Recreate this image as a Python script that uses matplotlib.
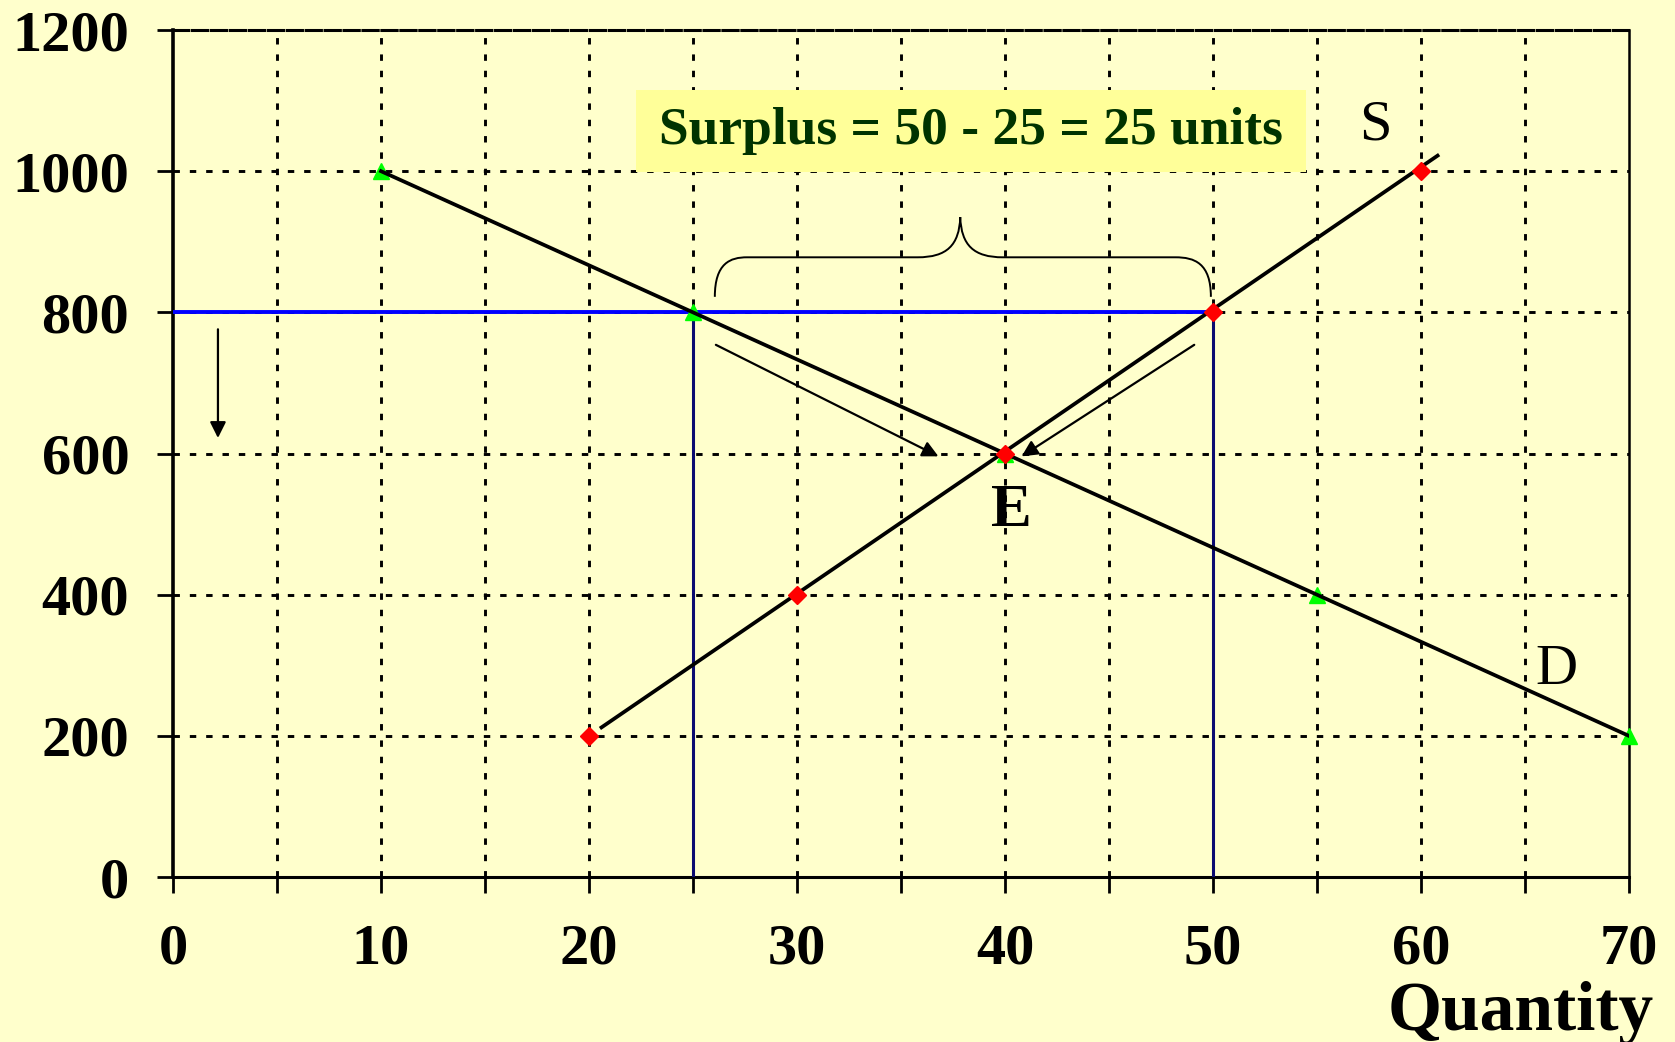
import matplotlib
matplotlib.use("Agg")
from matplotlib import pyplot as plt
from matplotlib.path import Path
from matplotlib.patches import PathPatch, Rectangle

# demand schedule (green triangles) and supply schedule (red diamonds)
demand_q = [10, 25, 40, 55, 70]
demand_p = [1000, 800, 600, 400, 200]
supply_q = [20, 30, 40, 50, 60]
supply_p = [200, 400, 600, 800, 1000]
supply_line_q = [20.6, 60.8]
supply_line_p = [212, 1022]

price_floor = 800
qty_demanded = 25
qty_supplied = 50

x_ticks = list(range(0, 75, 5))
x_labels = ["0", "", "10", "", "20", "", "30", "", "40", "", "50", "", "60", "", "70"]
y_ticks = [0, 200, 400, 600, 800, 1000, 1200]
y_labels = ["0", "200", "400", "600", "800", "1000", "1200"]

BG = "#FFFFCC"
SERIF = ["Liberation Serif", "DejaVu Serif"]

plt.rcParams["font.family"] = SERIF

fig = plt.figure(figsize=(16.75, 10.42), dpi=100, facecolor=BG)
ax = fig.add_axes([0.1033, 0.1583, 0.8692, 0.8129])
ax.set_facecolor(BG)
ax.set_xlim(0, 70)
ax.set_ylim(0, 1200)

# grid
grid_style = dict(color="black", lw=2.1, linestyle=(0, (2.2, 3.4)), zorder=1)
for gx in x_ticks[1:-1]:
    ax.axvline(gx, **grid_style)
for gy in y_ticks[1:-1]:
    ax.axhline(gy, **grid_style)

# spines
ax.spines["left"].set_linewidth(2.6)
ax.spines["bottom"].set_linewidth(2.2)
ax.spines["right"].set_linewidth(1.8)
ax.spines["top"].set_linewidth(2.2)
ax.spines["top"].set_linestyle((0, (5, 1.2)))

ax.set_xticks(x_ticks)
ax.set_xticklabels(x_labels)
ax.set_yticks(y_ticks)
ax.set_yticklabels(y_labels)
ax.tick_params(axis="both", direction="out", length=11.5, width=2.0, colors="black")
ax.tick_params(axis="x", pad=22)
ax.tick_params(axis="y", pad=20)
for lab in ax.get_xticklabels() + ax.get_yticklabels():
    lab.set_fontsize(42)
    lab.set_fontweight("bold")
    lab.set_family(SERIF)

# price floor and quantities
ax.plot([0, qty_supplied], [price_floor, price_floor], color="#0000FF", lw=2.8, zorder=3)
ax.plot([qty_demanded, qty_demanded], [0, price_floor], color="#0B0B70", lw=2.2, zorder=3)
ax.plot([qty_supplied, qty_supplied], [0, price_floor], color="#0B0B70", lw=2.2, zorder=3)

# supply and demand
ax.plot(demand_q, demand_p, linestyle="none", marker="^", ms=12, color="#00FF00",
        markeredgecolor="#00FF00", zorder=3, clip_on=False)
ax.plot(supply_q, supply_p, linestyle="none", marker="D", ms=9, color="#FF0000",
        markeredgecolor="#FF0000", zorder=5, clip_on=False)
ax.plot([demand_q[0], demand_q[-1]], [demand_p[0], demand_p[-1]], color="black", lw=2.7, zorder=4)
ax.plot(supply_line_q, supply_line_p, color="black", lw=2.7, zorder=4)

# arrows
arrow_props = dict(arrowstyle="-|>", color="black", lw=1.6, mutation_scale=24,
                   shrinkA=0, shrinkB=0)
ax.annotate("", xy=(2.16, 622), xytext=(2.16, 776), arrowprops=arrow_props)
ax.annotate("", xy=(36.8, 596), xytext=(26.1, 754), arrowprops=arrow_props)
ax.annotate("", xy=(40.8, 596), xytext=(49.1, 754), arrowprops=arrow_props)

# curly brace over the surplus
verts = [
    (26.05, 822), (26.05, 870), (26.8, 878), (27.6, 878),
    (35.8, 878),
    (37.2, 878), (37.8, 895), (37.85, 935),
    (37.9, 895), (38.5, 878), (39.9, 878),
    (48.2, 878),
    (49.1, 878), (49.9, 870), (49.9, 822),
]
codes = [Path.MOVETO, Path.CURVE4, Path.CURVE4, Path.CURVE4,
         Path.LINETO,
         Path.CURVE4, Path.CURVE4, Path.CURVE4,
         Path.CURVE4, Path.CURVE4, Path.CURVE4,
         Path.LINETO,
         Path.CURVE4, Path.CURVE4, Path.CURVE4]
ax.add_patch(PathPatch(Path(verts, codes), fill=False, lw=1.4, edgecolor="black", zorder=4))

# surplus box
ax.add_patch(Rectangle((22.26, 999), 32.2, 116, facecolor="#FFFF99", edgecolor="none", zorder=6))
ax.text(38.37, 1057, "Surplus = 50 - 25 = 25 units", fontsize=38.5, fontweight="bold",
        color="#003300", ha="center", va="center", zorder=7)

# curve labels
ax.text(57.8, 1065, "S", fontsize=42, ha="center", va="center", zorder=7)
ax.text(66.5, 293, "D", fontsize=42, ha="center", va="center", zorder=7)
ax.text(40.3, 519, "E", fontsize=44, fontweight="bold", ha="center", va="center", zorder=7)

fig.text(0.9875, 0.0115, "Quantity", fontsize=50, fontweight="bold",
         ha="right", va="baseline")

fig.savefig("out.png", dpi=100, facecolor=BG)
